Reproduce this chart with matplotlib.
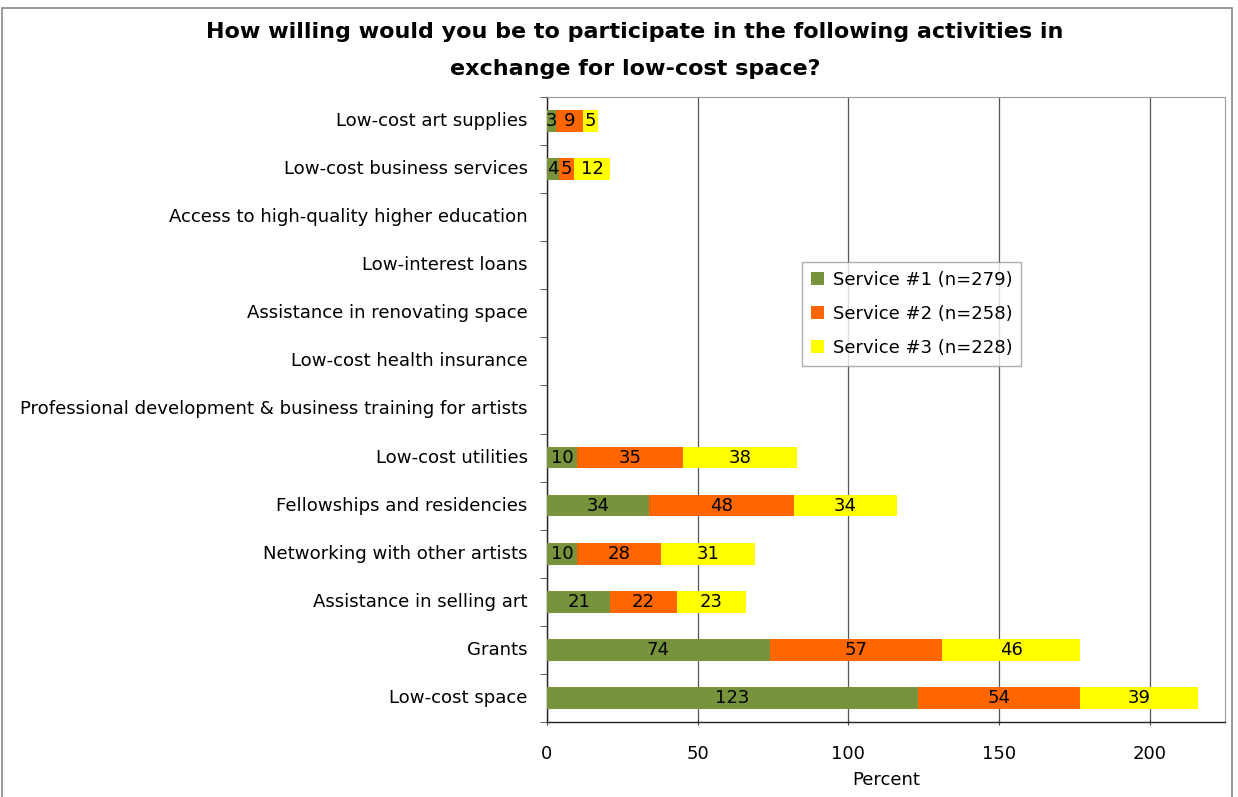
import matplotlib
matplotlib.use("Agg")
import matplotlib.pyplot as plt
from matplotlib.patches import Rectangle
import numpy as np

plt.rcParams['font.family'] = ['DejaVu Sans']

categories = [
    "Low-cost art supplies",
    "Low-cost business services",
    "Access to high-quality higher education",
    "Low-interest loans",
    "Assistance in renovating space",
    "Low-cost health insurance",
    "Professional development & business training for artists",
    "Low-cost utilities",
    "Fellowships and residencies",
    "Networking with other artists",
    "Assistance in selling art",
    "Grants",
    "Low-cost space",
]
service1 = [3, 4, 0, 0, 0, 0, 0, 10, 34, 10, 21, 74, 123]
service2 = [9, 5, 0, 0, 0, 0, 0, 35, 48, 28, 22, 57, 54]
service3 = [5, 12, 0, 0, 0, 0, 0, 38, 34, 31, 23, 46, 39]
series_names = ["Service #1 (n=279)", "Service #2 (n=258)", "Service #3 (n=228)"]
colors = ["#77933C", "#FF6600", "#FFFF00"]
xticks = [0, 50, 100, 150, 200]

fig = plt.figure(figsize=(12.38, 7.97), dpi=100)
ax = fig.add_axes([0.4418, 0.0941, 0.5477, 0.7842])

y = np.arange(len(categories))
left = np.zeros(len(categories))
for vals, col, name in zip([service1, service2, service3], colors, series_names):
    vals = np.array(vals, dtype=float)
    ax.barh(y, vals, left=left, height=0.45, color=col, label=name, zorder=3)
    for yi, v, l in zip(y, vals, left):
        if v > 0:
            ax.text(l + v / 2, yi, f"{int(v)}", ha='center', va='center',
                    fontsize=13, color='black', zorder=4)
    left = left + vals

ax.set_ylim(len(categories) - 0.5, -0.5)
ax.set_xlim(0, 225)
ax.set_yticks(y)
ax.set_yticklabels(categories, fontsize=13.1)
for lbl in ax.get_yticklabels():
    lbl.set_verticalalignment('center')
ax.set_yticks(np.arange(-0.5, len(categories), 1), minor=True)
ax.tick_params(axis='y', which='major', length=0, pad=14)
ax.tick_params(axis='y', which='minor', length=5, direction='out', color='#444444')
ax.set_xticks(xticks)
ax.set_xticklabels([str(t) for t in xticks], fontsize=13)
ax.tick_params(axis='x', length=5, direction='inout', color='#444444', pad=14)
ax.set_xlabel("Percent", fontsize=13, labelpad=6)

ax.grid(axis='x', color='#555555', linewidth=0.9, zorder=0)
ax.set_axisbelow(True)
for s in ['top', 'right']:
    ax.spines[s].set_color('#999999')
for s in ['left', 'bottom']:
    ax.spines[s].set_color('#222222')
    ax.spines[s].set_linewidth(1.0)

leg = ax.legend(loc='upper left', bbox_to_anchor=(0.376, 0.736), fontsize=13,
                frameon=True, fancybox=False, edgecolor='#999999',
                handlelength=0.7, handleheight=0.7, handletextpad=0.5,
                borderpad=0.5, labelspacing=0.88, borderaxespad=0)
leg.get_frame().set_linewidth(1.0)

fig.text(0.513, 0.960, "How willing would you be to participate in the following activities in",
         ha='center', va='center', fontsize=16, fontweight='bold')
fig.text(0.513, 0.913, "exchange for low-cost space?",
         ha='center', va='center', fontsize=16, fontweight='bold')

fig.patches.append(Rectangle((0.002, -0.05), 0.993, 1.04, transform=fig.transFigure,
                             fill=False, edgecolor='#888888', linewidth=1.2))

fig.savefig("out.png", dpi=100)
